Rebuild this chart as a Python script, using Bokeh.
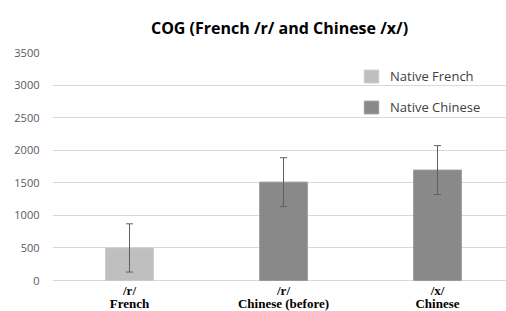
from bokeh.plotting import figure
from bokeh.models import Range1d, ColumnDataSource, Whisker, TeeHead, FixedTicker
from bokeh.core.properties import value
from bokeh.transform import factor_cmap
from bokeh.embed import file_html
from bokeh.resources import INLINE

categories = ["/r/\nFrench", "/r/\nChinese (before)", "/x/\nChinese"]
groups = ["Native French", "Native Chinese", "Native Chinese"]
group_names = ["Native French", "Native Chinese"]
group_colors = ["#bfbfbf", "#898989"]
cog_mean = [500, 1510, 1695]
cog_sd = [370, 375, 375]
y_ticks = [0, 500, 1000, 1500, 2000, 2500, 3000, 3500]

xpos = [i + 0.5 for i in range(len(categories))]
src = ColumnDataSource(dict(
    x=xpos, top=cog_mean, group=groups, label=categories, base=[0] * len(categories),
    upper=[m + s for m, s in zip(cog_mean, cog_sd)],
    lower=[m - s for m, s in zip(cog_mean, cog_sd)],
))

# frame runs to the canvas bottom; the space under 0 holds the category labels
y_max = y_ticks[-1]
y_min = -y_max * 31 / 228

p = figure(width=506, height=311, output_backend="svg", toolbar_location=None,
           x_range=Range1d(0, 2.948), y_range=Range1d(y_min, y_max),
           min_border_left=52, min_border_right=0, min_border_top=52, min_border_bottom=0,
           title="COG (French /r/ and Chinese /x/)")
p.outline_line_color = None
p.background_fill_color = "white"
p.border_fill_color = "white"

p.title.align = "center"
p.title.text_font = "Open Sans"
p.title.text_font_size = "16px"
p.title.text_font_style = "bold"
p.title.text_color = "#000000"
p.title.standoff = 27
p.title.offset = -4

r = p.vbar(x="x", top="top", width=0.31, source=src,
           fill_color=factor_cmap("group", group_colors, group_names),
           line_color=factor_cmap("group", ["#c8c8c8", "#9a9a9a"], group_names),
           line_width=1, legend_field="group")

w = Whisker(base="x", upper="upper", lower="lower", source=src, level="annotation",
            line_color="#5f5f5f", line_width=1,
            upper_head=TeeHead(size=7, line_color="#5f5f5f", line_width=1),
            lower_head=TeeHead(size=7, line_color="#5f5f5f", line_width=1))
p.add_layout(w)

p.text(x="x", y="base", text="label", source=src, y_offset=2,
       text_align="center", text_baseline="top",
       text_font=value("Liberation Serif"), text_font_style="bold",
       text_font_size="13px", text_color="#000000", text_line_height=0.92)

p.xgrid.grid_line_color = None
p.ygrid.grid_line_color = "#d9d9d9"
p.ygrid.ticker = FixedTicker(ticks=y_ticks)

p.yaxis.ticker = FixedTicker(ticks=y_ticks)
p.yaxis.axis_line_color = None
p.yaxis.major_tick_line_color = None
p.yaxis.minor_tick_line_color = None
p.yaxis.major_tick_out = 0
p.yaxis.major_tick_in = 0
p.yaxis.major_label_text_font = "Open Sans"
p.yaxis.major_label_text_font_size = "11px"
p.yaxis.major_label_text_color = "#595959"
p.yaxis.major_label_standoff = 13

p.xaxis.visible = False

leg = p.legend[0]
leg.location = (310, 195)
leg.border_line_color = None
leg.background_fill_alpha = 0
leg.padding = 0
leg.margin = 0
leg.spacing = 13
leg.glyph_width = 18
leg.glyph_height = 16
leg.label_standoff = 10
leg.label_text_font = "Open Sans"
leg.label_text_font_size = "13px"
leg.label_text_color = "#404040"
leg.label_height = 16

open("out.html", "w").write(file_html(p, INLINE))
